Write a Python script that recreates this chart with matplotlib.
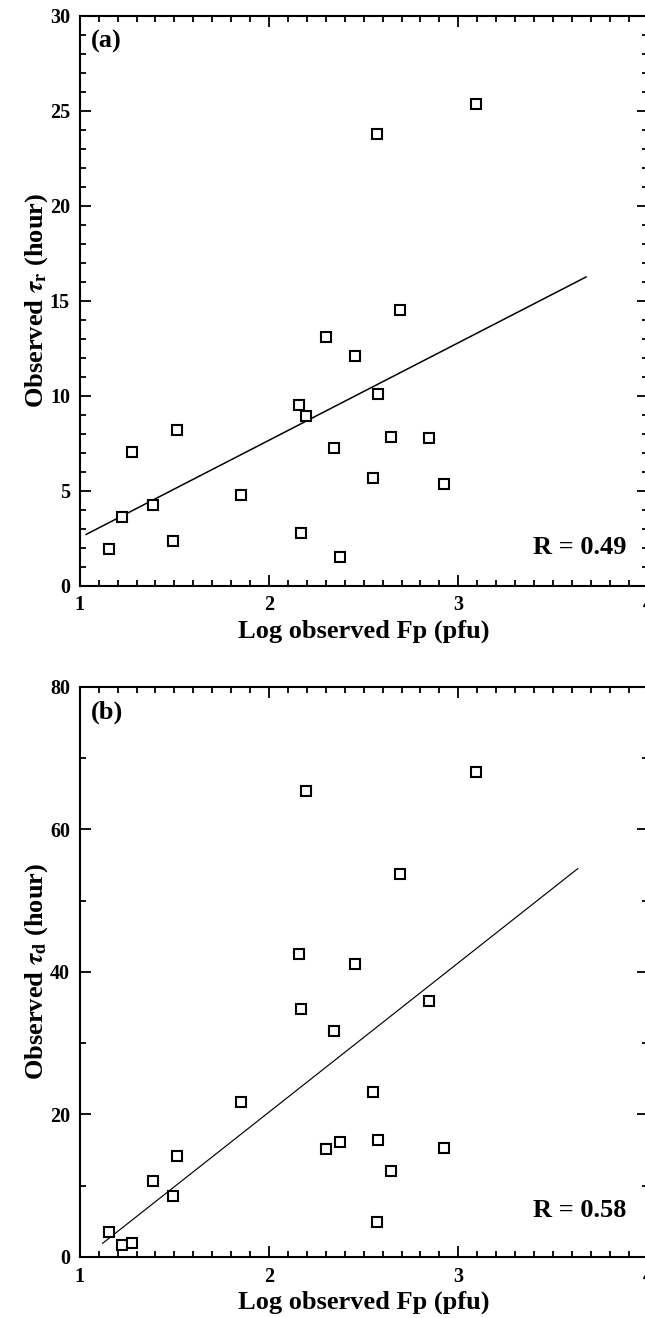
import matplotlib
matplotlib.use("Agg")
from matplotlib import pyplot as plt
from matplotlib.ticker import MultipleLocator
import numpy as np

# log peak flux, shared by both panels
log_fp = [1.153, 1.223, 1.275, 1.386, 1.495, 1.516, 1.852, 2.158, 2.171, 2.197, 2.301,
          2.343, 2.377, 2.454, 2.551, 2.569, 2.574, 2.644, 2.694, 2.844, 2.923, 3.094]
# rise time (hour), panel a
tau_r = [1.93, 3.60, 7.02, 4.26, 2.35, 8.18, 4.77, 9.51, 2.76, 8.93, 13.09,
         7.26, 1.53, 12.11, 5.68, 23.77, 10.11, 7.84, 14.51, 7.77, 5.35, 25.34]
# decay time (hour), panel b
tau_d = [3.50, 1.64, 1.96, 10.64, 8.54, 14.10, 21.75, 42.48, 34.73, 65.31, 15.08,
         31.70, 16.06, 41.04, 23.15, 4.95, 16.39, 12.00, 53.78, 35.90, 15.27, 67.97]

fit_a_x = [1.034, 3.675]
fit_a_y = [2.70, 16.25]
fit_b_x = [1.121, 3.631]
fit_b_y = [1.92, 54.48]

plt.rcParams['font.family'] = ['Liberation Serif', 'DejaVu Serif']
plt.rcParams['font.weight'] = 'bold'
plt.rcParams['mathtext.fontset'] = 'stix'

fig = plt.figure(figsize=(6.45, 13.18), dpi=100)
ax_a = fig.add_axes([0.1236, 0.5556, 0.8805, 0.4325])
ax_b = fig.add_axes([0.1236, 0.0463, 0.8805, 0.4327])

panels = [
    (ax_a, tau_r, fit_a_x, fit_a_y, 1.1, 30, 5, 1,
     r'Observed $\boldsymbol{\tau}_{\mathbf{r}}$ (hour)', '(a)', 'R = 0.49', 0.0556),
    (ax_b, tau_d, fit_b_x, fit_b_y, 0.85, 80, 20, 10,
     r'Observed $\boldsymbol{\tau}_{\mathbf{d}}$ (hour)', '(b)', 'R = 0.58', 0.0696),
]

for ax, yv, fx, fy, lw, ymax, ymaj, ymin, ylab, tag, rtxt, ry in panels:
    ax.plot(fx, fy, color='black', linewidth=lw)
    ax.plot(log_fp, yv, linestyle='none', marker='s', markersize=7.5,
            markerfacecolor='white', markeredgecolor='black', markeredgewidth=1.5)
    ax.set_xlim(1, 4)
    ax.set_ylim(0, ymax)
    ax.xaxis.set_major_locator(MultipleLocator(1))
    ax.xaxis.set_minor_locator(MultipleLocator(0.1))
    ax.yaxis.set_major_locator(MultipleLocator(ymaj))
    ax.yaxis.set_minor_locator(MultipleLocator(ymin))
    ax.tick_params(which='both', direction='in', top=True, right=True, width=1.3)
    ax.tick_params(which='major', length=8, labelsize=14.5, pad=7)
    ax.tick_params(which='minor', length=4)
    for s in ax.spines.values():
        s.set_linewidth(1.5)
    for lab in ax.get_xticklabels() + ax.get_yticklabels():
        lab.set_fontweight('bold')
    ax.set_xlabel('Log observed Fp (pfu)', fontsize=19, fontweight='bold', labelpad=3)
    ax.set_ylabel(ylab, fontsize=19, fontweight='bold')
    ax.yaxis.set_label_coords(-0.053, 0.5)
    ax.text(0.02, 0.975, tag, transform=ax.transAxes, fontsize=19, fontweight='bold',
            ha='left', va='top')
    ax.text(0.962, ry, rtxt, transform=ax.transAxes, fontsize=19, fontweight='bold',
            ha='right', va='baseline')

fig.savefig('out.png', dpi=100)
